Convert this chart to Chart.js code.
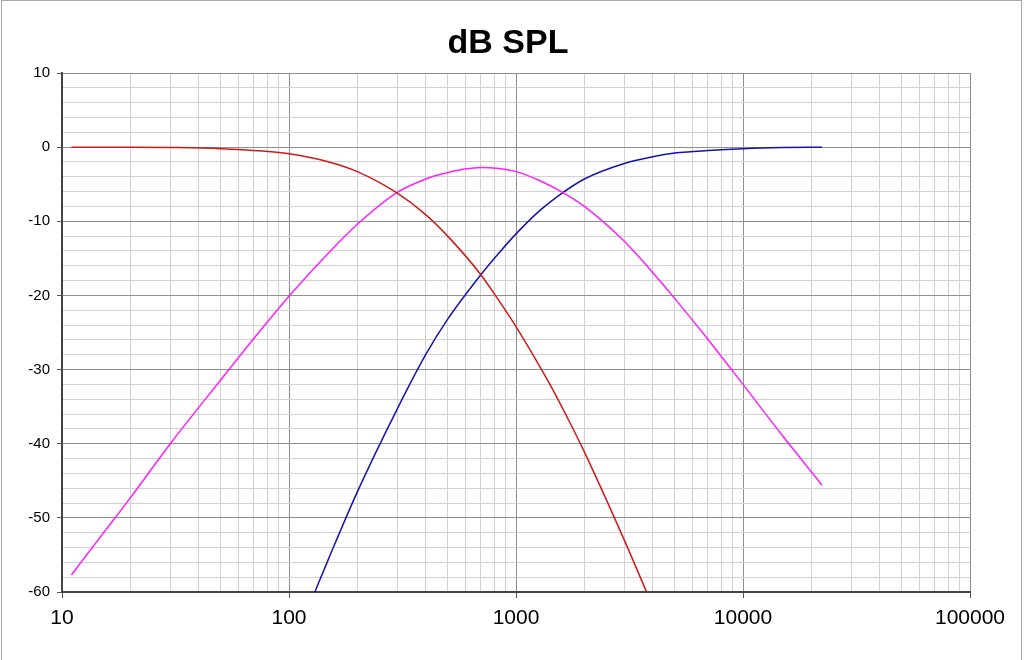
<!DOCTYPE html>
<html>
<head>
<meta charset="utf-8">
<script src="https://cdn.jsdelivr.net/npm/chart.js@4/dist/chart.umd.min.js"></script>
<style>
  body { margin: 0; background: #fff; }
  #frame {
    position: absolute; left: 1px; top: 0; width: 1019px; height: 680px;
    border: 1px solid #a8a8a8; pointer-events: none;
  }
  canvas { position: absolute; left: 0; top: 0; }
</style>
</head>
<body>
<canvas id="spl" width="1024" height="660"></canvas>
<div id="frame"></div>
<script>
const chartTitle = 'dB SPL';

// low pass (red)
const lowFreq = [11, 20, 30, 50, 70, 100, 150, 200, 300, 400, 500, 700, 845, 1000, 1268, 1500, 1718, 2000, 3000, 3760];
const lowDb   = [0, 0, -0.05, -0.2, -0.45, -0.9, -2.0, -3.3, -6.2, -9.1, -12.0, -17.2, -20.8, -24.2, -29.5, -33.5, -37.0, -41.1, -53.0, -60];

// band pass (magenta)
const midFreq = [11, 15, 20, 30, 50, 70, 100, 150, 200, 300, 400, 460, 700, 1000, 1268, 1603, 2000, 3000, 4000, 5000, 7000, 10000, 15000, 22300];
const midDb   = [-57.7, -52.3, -47.3, -40.0, -31.4, -25.8, -20.1, -14.2, -10.4, -6.1, -4.3, -3.7, -2.75, -3.3, -4.5, -6.1, -8.0, -12.7, -16.9, -20.4, -25.9, -32.0, -39.0, -45.6];

// high pass (blue)
const highFreq = [130, 150, 200, 300, 400, 500, 700, 845, 1000, 1268, 1500, 2000, 3000, 4000, 5000, 6000, 7000, 10000, 15000, 22300];
const highDb   = [-60, -55.4, -46.5, -35.3, -28.0, -23.2, -17.2, -14.2, -11.7, -8.6, -6.8, -4.3, -2.2, -1.3, -0.8, -0.6, -0.45, -0.2, -0.05, 0];

// axes
const decades = [10, 100, 1000, 10000];
const steps = [1, 2, 3, 4, 5, 6, 7, 8, 9];
const xMax = 100000;
const yMin = -60, yMax = 10, yStep = 2;

function points(xs, ys) {
    return xs.map((x, i) => ({ x: x, y: ys[i] }));
}

const xTicks = [];
decades.forEach(d => steps.forEach(s => xTicks.push(d * s)));
xTicks.push(xMax);

const isDecade = v => Math.abs(Math.log10(v) - Math.round(Math.log10(v))) < 1e-9;

const lineStyle = {
    showLine: true,
    pointRadius: 0,
    borderWidth: 1.5,
    fill: false,
    cubicInterpolationMode: 'monotone',
};

// title is drawn by hand so it sits centred on the page, not on the padded chart
const pageTitle = {
    id: 'pageTitle',
    afterDraw(chart) {
        const ctx = chart.ctx;
        ctx.save();
        ctx.fillStyle = '#000';
        ctx.font = 'bold 34px "Liberation Sans", Arial, sans-serif';
        ctx.textAlign = 'center';
        ctx.textBaseline = 'middle';
        ctx.fillText(chartTitle, 508, 44);
        ctx.restore();
    }
};

new Chart(document.getElementById('spl'), {
    type: 'scatter',
    data: {
        datasets: [
            Object.assign({ label: 'low', borderColor: 'rgb(208,24,24)', data: points(lowFreq, lowDb) }, lineStyle),
            Object.assign({ label: 'mid', borderColor: 'rgb(255,30,255)', data: points(midFreq, midDb) }, lineStyle),
            Object.assign({ label: 'high', borderColor: 'rgb(20,20,170)', data: points(highFreq, highDb) }, lineStyle),
        ]
    },
    plugins: [pageTitle],
    options: {
        responsive: false,
        animation: false,
        devicePixelRatio: 1,
        layout: { padding: { left: 0, right: 54, top: 73, bottom: 0 } },
        plugins: {
            legend: { display: false },
            tooltip: { enabled: false },
            title: { display: false },
        },
        scales: {
            x: {
                type: 'logarithmic',
                min: 10,
                max: xMax,
                afterBuildTicks: scale => {
                    scale.ticks = xTicks.map(v => ({ value: v, major: isDecade(v) }));
                },
                afterFit: scale => { scale.height = 68; },
                ticks: {
                    autoSkip: false,
                    maxRotation: 0,
                    padding: 8,
                    color: '#000',
                    font: { family: 'Liberation Sans, Arial, sans-serif', size: 21 },
                    callback: v => isDecade(v) ? String(v) : '',
                },
                grid: {
                    color: c => isDecade(c.tick.value) ? '#8e8e8e' : '#d2d2d2',
                    tickColor: c => isDecade(c.tick.value) ? '#555' : 'rgba(0,0,0,0)',
                    tickLength: 6,
                    lineWidth: 1,
                },
                border: { color: '#444', width: 2 },
            },
            y: {
                min: yMin,
                max: yMax,
                afterFit: scale => { scale.width = 62; },
                ticks: {
                    stepSize: yStep,
                    autoSkip: false,
                    padding: 7,
                    color: '#000',
                    font: { family: 'Liberation Sans, Arial, sans-serif', size: 15 },
                    callback: v => v % 10 === 0 ? String(v) : '',
                },
                grid: {
                    color: c => c.tick.value % 10 === 0 ? '#8e8e8e' : '#d2d2d2',
                    tickColor: c => c.tick.value % 10 === 0 ? '#555' : 'rgba(0,0,0,0)',
                    tickLength: 5,
                    lineWidth: 1,
                },
                border: { color: '#444', width: 2 },
            }
        }
    }
});
</script>
</body>
</html>
